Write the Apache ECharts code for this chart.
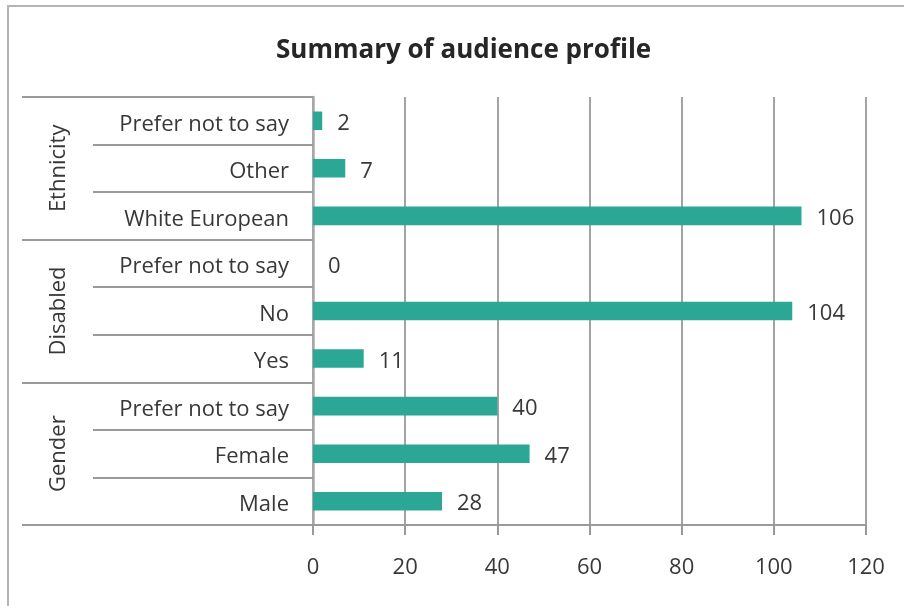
<!DOCTYPE html>
<html>
<head>
<meta charset="utf-8">
<title>Summary of audience profile</title>
<script src="https://cdn.jsdelivr.net/npm/echarts@6/dist/echarts.min.js"></script>
<style>
  html, body { margin: 0; padding: 0; background: #ffffff; }
  #chart { width: 904px; height: 606px; }
</style>
</head>
<body>
<div id="chart"></div>
<script>
// Rows listed top to bottom, grouped by question
const categories = [
  'Prefer not to say', 'Other', 'White European',
  'Prefer not to say', 'No', 'Yes',
  'Prefer not to say', 'Female', 'Male'
];
const groups = ['Ethnicity', 'Disabled', 'Gender'];
const counts = [2, 7, 106, 0, 104, 11, 40, 47, 28];
const xTicks = [0, 20, 40, 60, 80, 100, 120];

const FONT = '"Open Sans", "Liberation Sans", sans-serif';
const TEXT = '#383838';
const LINE = '#9a9a9a';

const chart = echarts.init(document.getElementById('chart'), null, { renderer: 'canvas' });

chart.setOption({
  animation: false,
  backgroundColor: '#ffffff',
  title: {
    text: 'Summary of audience profile',
    left: 271,
    top: 33,
    textStyle: { fontFamily: FONT, fontSize: 26, fontWeight: 'bold', color: '#262626' }
  },
  graphic: [{
    type: 'rect',
    shape: { x: 8, y: 6, width: 1000, height: 1000 },
    style: { fill: 'none', stroke: '#b4b4b4', lineWidth: 2 },
    silent: true
  }],
  grid: { left: 313, right: 38, top: 97, bottom: 81, containLabel: false },
  xAxis: {
    type: 'value',
    min: xTicks[0],
    max: xTicks[xTicks.length - 1],
    interval: xTicks[1] - xTicks[0],
    axisLine: { show: true, lineStyle: { color: LINE, width: 2 } },
    axisTick: { show: true, length: 10, lineStyle: { color: LINE, width: 2 } },
    splitLine: { show: true, lineStyle: { color: '#858585', width: 1.5 } },
    axisLabel: { fontFamily: FONT, fontSize: 22, color: TEXT, margin: 32 }
  },
  yAxis: [{
    type: 'category',
    data: categories,
    inverse: true,
    position: 'left',
    axisLine: { show: true, lineStyle: { color: '#a8a8a8', width: 2.5 } },
    axisTick: { show: true, length: 220, lineStyle: { color: LINE, width: 2 } },
    splitLine: { show: false },
    axisLabel: {
      margin: 24,
      formatter: function (v) { return '{c|' + v + '}'; },
      rich: {
        c: { fontFamily: FONT, fontSize: 22, color: TEXT, padding: [7, 0, 0, 0] }
      }
    }
  }, {
    type: 'category',
    data: groups,
    inverse: true,
    position: 'left',
    offset: 0,
    axisLine: { show: false },
    axisTick: { show: true, length: 291, lineStyle: { color: LINE, width: 2 } },
    splitLine: { show: false },
    axisLabel: {
      fontFamily: FONT, fontSize: 22, color: TEXT,
      rotate: 90, margin: 254, align: 'center', verticalAlign: 'middle'
    }
  }],
  series: [{
    type: 'bar',
    yAxisIndex: 0,
    data: counts,
    barWidth: '39%',
    itemStyle: { color: '#2ca795' },
    label: {
      show: true,
      position: 'right',
      distance: 15,
      offset: [0, 3],
      fontFamily: FONT,
      fontSize: 22,
      color: TEXT
    }
  }]
});
</script>
</body>
</html>
